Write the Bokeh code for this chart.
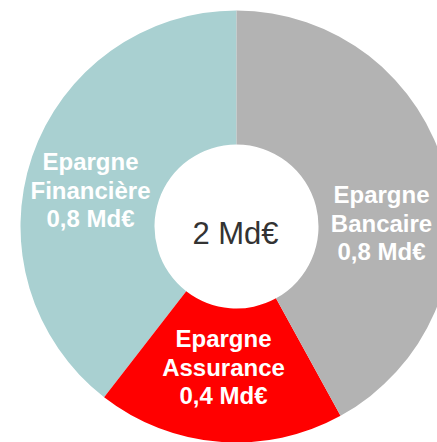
import math
from bokeh.plotting import figure
from bokeh.models import Range1d, ColumnDataSource
from bokeh.core.properties import value
from bokeh.embed import file_html
from bokeh.resources import INLINE

# ---- data ----
categories = ["Epargne Financière", "Epargne Assurance", "Epargne Bancaire"]
values = [0.79, 0.37, 0.84]
value_labels = ["0,8 Md€", "0,4 Md€", "0,8 Md€"]
name_first = ["Epargne", "Epargne", "Epargne"]
name_second = ["Financière", "Assurance", "Bancaire"]
colors = ["#A9D0D1", "#FF0000", "#B3B3B3"]
total_label = "2 Md€"

# ---- layout (reference pixel space, y down) ----
W, H = 437, 442
CX, CY_PIX = 236, 226
R_OUT, R_IN = 216, 82
label_anchor = [(90, 161), (223, 338), (381, 194)]  # baseline of first line
line_gap = 28.5

def fy(py):
    return H - py

p = figure(width=W, height=H, output_backend="svg", toolbar_location=None,
           x_range=Range1d(0, W), y_range=Range1d(0, H),
           min_border=0, background_fill_color="white", border_fill_color="white")
p.axis.visible = False
p.grid.visible = False
p.outline_line_color = None

tot = sum(values)
starts, ends = [], []
a = math.pi / 2
for v in values:
    starts.append(a)
    a += v / tot * 2 * math.pi
    ends.append(a)

src = ColumnDataSource(dict(x=[CX] * len(values), y=[fy(CY_PIX)] * len(values),
                            start=starts, end=ends, color=colors))
p.annular_wedge(x="x", y="y", inner_radius=R_IN, outer_radius=R_OUT,
                start_angle="start", end_angle="end", fill_color="color",
                line_color=None, source=src)

xs, ys, ts = [], [], []
for i in range(len(categories)):
    lx, ly = label_anchor[i]
    for j, t in enumerate([name_first[i], name_second[i], value_labels[i]]):
        xs.append(lx)
        ys.append(fy(ly + j * line_gap))
        ts.append(t)
p.text(x=xs, y=ys, text=ts, text_align="center", text_baseline="alphabetic",
       text_color="white", text_font=value("Liberation Sans"),
       text_font_style="bold", text_font_size="24px")

p.text(x=[235], y=[fy(233)], text=[total_label], text_align="center",
       text_baseline="alphabetic", text_color="#333333",
       text_font=value("Liberation Sans"), text_font_size="31px")

open("out.html", "w").write(file_html(p, INLINE))
